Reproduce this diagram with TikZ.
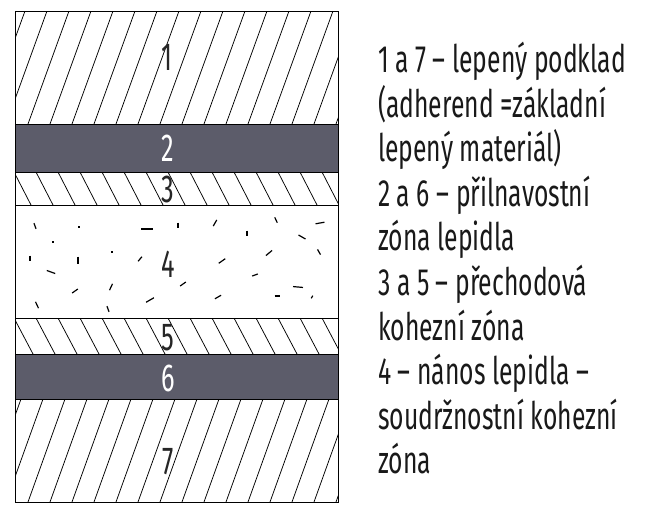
\documentclass[tikz,border=0pt]{standalone}
\usepackage{fontspec}
\setmainfont{Fira Sans}[FakeStretch=0.65]
\definecolor{band}{RGB}{92,92,106}
\begin{document}
\begin{tikzpicture}[x=1pt,y=-1pt,
  hatch/.style={black, line width=0.75pt},
  layerline/.style={black, line width=1pt},
  num/.style={inner sep=0pt, font=\fontsize{39}{44}\selectfont, text=black!85},
  wnum/.style={num, text=white},
  legend/.style={anchor=base west, inner sep=0pt, font=\fontsize{38}{44}\selectfont, text=black!90},
  speck/.style={black, line width=1.2pt}]
\useasboundingbox[fill=white] (0,0) rectangle (671,520);
% layer 1
\begin{scope}
\clip (15,11) rectangle (338,124);
\foreach \x in {-60,-38,...,350} \draw[hatch] (\x,124) -- ++(41,-113);
\end{scope}
% layer 2
\fill[band] (15,124) rectangle (338,172);
% layer 3
\begin{scope}
\clip (15,172) rectangle (338,205);
\foreach \x in {-30,-8,...,350} \draw[hatch] (\x,172) -- ++(17,33);
\end{scope}
% layer 5
\begin{scope}
\clip (15,318) rectangle (338,354);
\foreach \x in {-30,-8,...,350} \draw[hatch] (\x,318) -- ++(19,36);
\end{scope}
% layer 6
\fill[band] (15,354) rectangle (338,399);
% layer 7
\begin{scope}
\clip (15,399) rectangle (338,502);
\foreach \x in {-60,-38,...,350} \draw[hatch] (\x,502) -- ++(37,-103);
\end{scope}
% specks in layer 4
\foreach \px/\py/\a/\l in {35/226/70/6, 79/227/0/2, 147/229/0/12, 178/225/90/5, 215/223/120/7,
  247/233/90/5, 276/220/65/6, 320/223/-10/9, 302/237/30/8, 53/242/0/2, 30/258/90/5,
  78/260/90/7, 112/252/0/2, 140/259/130/6, 51/272/20/9, 222/261/145/8, 269/253/140/8,
  319/252/60/6, 255/275/160/6, 75/291/145/7, 111/287/115/7, 183/284/145/7, 298/287/5/10,
  37/305/65/7, 108/309/70/6, 150/300/150/9, 218/297/150/7, 277/296/0/5, 312/297/120/3}
  \draw[speck] (\px,\py) ++(\a:-\l/2) -- ++(\a:\l);
% layer borders and frame
\draw[layerline] (15,124) -- (338,124);
\draw[layerline] (15,172) -- (338,172);
\draw[layerline] (15,205) -- (338,205);
\draw[layerline] (15,318) -- (338,318);
\draw[layerline] (15,354) -- (338,354);
\draw[layerline] (15,399) -- (338,399);
\draw[layerline] (15,11) rectangle (338,502);
% numbers
\node[num]  (n1) at (167,57)  {1};
\node[wnum] (n2) at (168,148) {2};
\node[num]  (n3) at (168,189) {3};
\node[num]  (n4) at (168,264) {4};
\node[num]  (n5) at (168,338) {5};
\node[wnum] (n6) at (168,378) {6};
\node[num]  (n7) at (168,462) {7};
% legend
\node[legend] (l1)  at (378,72)  {1 a 7 – lepený podklad};
\node[legend] (l2)  at (378,117) {(adherend =základní};
\node[legend] (l3)  at (378,161) {lepený materiál)};
\node[legend] (l4)  at (378,206) {2 a 6 – přilnavostní};
\node[legend] (l5)  at (378,250) {zóna lepidla};
\node[legend] (l6)  at (378,295) {3 a 5 – přechodová};
\node[legend] (l7)  at (378,340) {kohezní zóna};
\node[legend] (l8)  at (378,384) {4 – nános lepidla –};
\node[legend] (l9)  at (378,429) {soudržnostní kohezní};
\node[legend] (l10) at (378,473) {zóna};
\end{tikzpicture}
\end{document}
